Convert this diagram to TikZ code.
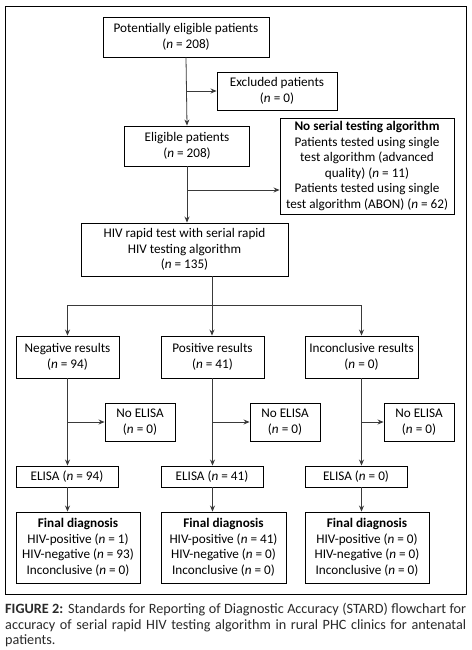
\documentclass[tikz,border=0pt]{standalone}
\usepackage{fontspec}
\setmainfont{Carlito}
\usepackage{tikz}
\usetikzlibrary{arrows.meta, positioning, calc}
\definecolor{linegrey}{HTML}{3A3A3A}
\definecolor{captiontext}{HTML}{2A2A2A}
\tikzstyle{box} = [rectangle, draw=black, line width=0.9pt, inner sep=1pt, align=center, font=\fontsize{13.2}{15.5}\selectfont]
\tikzstyle{arrow} = [line width=0.8pt, ->, >={Stealth[length=6pt, width=5pt]}, color=linegrey]
\tikzstyle{line} = [line width=0.8pt, color=linegrey]
\newcommand{\nn}{\textit{n}}

\begin{document}
\begin{tikzpicture}[x=1pt, y=-1pt]
    \useasboundingbox[fill=white] (0,0) rectangle (471,650);
    \draw[line width=0.9pt] (5,6) rectangle (466,594);

    % top part
    \node[box, minimum width=166pt, minimum height=40pt] (pot) at (186,37) {Potentially eligible patients\\(\nn{} = 208)};
    \node[box, minimum width=120pt, minimum height=38pt] (excl) at (277,91) {Excluded patients\\(\nn{} = 0)};
    \node[box, minimum width=125pt, minimum height=40pt] (elig) at (187,146) {Eligible patients\\(\nn{} = 208)};
    \node[box, minimum width=174pt, minimum height=96pt] (noser) at (367,166) {\textbf{No serial testing algorithm}\\Patients tested using single\\test algorithm (advanced\\quality) (\nn{} = 11)\\Patients tested using single\\test algorithm (ABON) (\nn{} = 62)};
    \node[box, minimum width=207pt, minimum height=53pt] (rapid) at (184.5,249.5) {HIV rapid test with serial rapid\\HIV testing algorithm\\(\nn{} = 135)};

    % results
    \node[box, minimum width=103pt, minimum height=42pt] (neg) at (67.5,357) {Negative results\\(\nn{} = 94)};
    \node[box, minimum width=103pt, minimum height=42pt] (pos) at (212.5,357) {Positive results\\(\nn{} = 41)};
    \node[box, minimum width=113pt, minimum height=42pt] (inc) at (361.5,357) {Inconclusive results\\(\nn{} = 0)};

    \node[box, minimum width=70pt, minimum height=38pt] (noelA) at (140,422) {No ELISA\\(\nn{} = 0)};
    \node[box, minimum width=70pt, minimum height=38pt] (noelB) at (285,422) {No ELISA\\(\nn{} = 0)};
    \node[box, minimum width=70pt, minimum height=38pt] (noelC) at (419,422) {No ELISA\\(\nn{} = 0)};

    \node[box, minimum width=102pt, minimum height=21pt] (elisaA) at (67,476.5) {ELISA (\nn{} = 94)};
    \node[box, minimum width=102pt, minimum height=21pt] (elisaB) at (212,476.5) {ELISA (\nn{} = 41)};
    \node[box, minimum width=102pt, minimum height=21pt] (elisaC) at (356,476.5) {ELISA (\nn{} = 0)};

    \node[box, minimum width=124pt, minimum height=71pt] (finA) at (78,547.5) {\textbf{Final diagnosis}\\HIV-positive (\nn{} = 1)\\HIV-negative (\nn{} = 93)\\Inconclusive (\nn{} = 0)};
    \node[box, minimum width=125pt, minimum height=71pt] (finB) at (223.5,547.5) {\textbf{Final diagnosis}\\HIV-positive (\nn{} = 41)\\HIV-negative (\nn{} = 0)\\Inconclusive (\nn{} = 0)};
    \node[box, minimum width=124pt, minimum height=71pt] (finC) at (367,547.5) {\textbf{Final diagnosis}\\HIV-positive (\nn{} = 0)\\HIV-negative (\nn{} = 0)\\Inconclusive (\nn{} = 0)};

    \coordinate (split) at (212,305);

    \draw[arrow] (pot.south) -- (elig.north);
    \draw[arrow] (pot.south |- excl.west) -- (excl.west);
    \draw[arrow] (elig.south) -- (elig.south |- rapid.north);
    \draw[arrow] (elig.south |- 0,190) -- (noser.west |- 0,190);
    \draw[line] (rapid.south -| split) -- (split);
    \draw[arrow] (split) -- (pos.north -| split);
    \draw[arrow] (split) -| (neg.north);
    \draw[arrow] (split) -| (inc.north);

    \draw[arrow] (neg.south) -- (neg.south |- elisaA.north);
    \draw[arrow] (pos.south) -- (pos.south |- elisaB.north);
    \draw[arrow] (inc.south) -- (inc.south |- elisaC.north);
    \draw[arrow] (neg.south |- noelA.west) -- (noelA.west);
    \draw[arrow] (pos.south |- noelB.west) -- (noelB.west);
    \draw[arrow] (inc.south |- noelC.west) -- (noelC.west);

    \draw[arrow] (neg.south |- elisaA.south) -- (neg.south |- finA.north);
    \draw[arrow] (pos.south |- elisaB.south) -- (pos.south |- finB.north);
    \draw[arrow] (inc.south |- elisaC.south) -- (inc.south |- finC.north);

    % caption
    \node[anchor=north west, text width=461pt, align=justify, inner sep=0pt, text=captiontext, font=\fontsize{14.2}{15.6}\selectfont] (cap) at (5,603) {\textbf{FIGURE 2:} Standards for Reporting of Diagnostic Accuracy (STARD) flowchart for accuracy of serial rapid HIV testing algorithm in rural PHC clinics for antenatal patients.};
\end{tikzpicture}
\end{document}
